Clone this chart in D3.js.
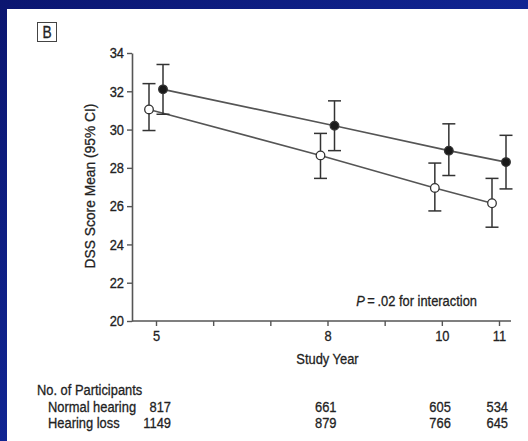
<!DOCTYPE html>
<html>
<head>
<meta charset="utf-8">
<script src="https://cdn.jsdelivr.net/npm/d3@7"></script>
<style>
  html, body { margin: 0; padding: 0; background: #fff; }
  svg { display: block; }
</style>
</head>
<body>
<div class="chart"></div>
<script>
// Data
const years = [5, 8, 10, 11]
const xTicks = [5, 6, 7, 8, 9, 10, 11]
const xLabels = [5, 8, 10, 11]
const yTicks = [20, 22, 24, 26, 28, 30, 32, 34]

// filled circles
const filledMean = [32.1, 30.2, 28.9, 28.3]
const filledLow = [30.8, 28.9, 27.6, 26.9]
const filledHigh = [33.4, 31.5, 30.3, 29.7]

// open circles
const openMean = [31.05, 28.65, 26.95, 26.15]
const openLow = [29.95, 27.45, 25.75, 24.9]
const openHigh = [32.4, 29.8, 28.25, 27.45]

const normalN = [817, 661, 605, 534]
const lossN = [1149, 879, 766, 645]

const width = 528
const height = 441
const font = "'Liberation Sans', Arial, sans-serif"
const narrow = 0.86 // condensed look, like Helvetica Condensed
const ink = "#222"
const lineCol = "#555"

const svg = d3.select(".chart").append("svg")
    .attr("width", width)
    .attr("height", height)
    .attr("viewBox", [0, 0, width, height])

// Blue slide frame
const defs = svg.append("defs")
const grad = defs.append("linearGradient")
    .attr("id", "frame")
    .attr("x1", "0%").attr("y1", "0%")
    .attr("x2", "100%").attr("y2", "100%")
grad.append("stop").attr("offset", "0%").attr("stop-color", "#0b1670")
grad.append("stop").attr("offset", "100%").attr("stop-color", "#1634b4")

svg.append("rect")
    .attr("width", width).attr("height", height)
    .attr("fill", "url(#frame)")
svg.append("rect")
    .attr("x", 7).attr("y", 9)
    .attr("width", width - 7).attr("height", height - 9)
    .attr("fill", "#fff")

// Panel letter
svg.append("rect")
    .attr("x", 37.5).attr("y", 22.5)
    .attr("width", 19).attr("height", 19)
    .attr("fill", "none")
    .attr("stroke", "#444")
    .attr("stroke-width", 1)
svg.append("text")
    .attr("x", 47).attr("y", 38)
    .attr("text-anchor", "middle")
    .attr("font-family", font)
    .attr("font-size", 16)
    .attr("fill", ink)
    .text("B")

// Scales
const x = d3.scaleLinear().domain([5, 11]).range([156, 499])
const y = d3.scaleLinear().domain([20, 34]).range([321, 53])

// Axes
const yAxis = svg.append("g")
    .attr("transform", "translate(132,0)")
    .call(d3.axisLeft(y).tickValues(yTicks).tickSize(5).tickPadding(3).tickSizeOuter(0))
yAxis.select(".domain").attr("stroke", lineCol).attr("stroke-width", 1.6)
yAxis.selectAll(".tick line").attr("stroke", lineCol).attr("stroke-width", 1.4)
yAxis.selectAll(".tick text")
    .attr("font-family", font).attr("font-size", 15).attr("fill", ink)

const xAxis = svg.append("g")
    .attr("transform", "translate(0,321)")
    .call(d3.axisBottom(x).tickValues(xTicks).tickSize(5).tickPadding(4)
        .tickFormat(d => xLabels.includes(d) ? d : ""))
xAxis.select(".domain")
    .attr("d", `M132,0H511`)
    .attr("stroke", lineCol).attr("stroke-width", 1.6)
xAxis.selectAll(".tick line").attr("stroke", lineCol).attr("stroke-width", 1.4)
xAxis.selectAll(".tick text")
    .attr("font-family", font).attr("font-size", 15).attr("fill", ink)

// Axis titles
svg.append("text")
    .attr("class", "ylab")
    .attr("transform", `translate(95,186) rotate(-90) scale(0.92,1)`)
    .attr("text-anchor", "middle")
    .attr("font-family", font)
    .attr("font-size", 15)
    .attr("fill", ink)
    .text("DSS Score Mean (95% CI)")

svg.append("text")
    .attr("x", x(8)).attr("y", 364)
    .attr("text-anchor", "middle")
    .attr("font-family", font)
    .attr("font-size", 15)
    .attr("fill", ink)
    .text("Study Year")

// Annotation
const ann = svg.append("text")
    .attr("x", 477).attr("y", 306)
    .attr("text-anchor", "end")
    .attr("font-family", font)
    .attr("font-size", 15)
    .attr("fill", ink)
ann.append("tspan").attr("font-style", "italic").text("P")
ann.append("tspan").text("\u2009=\u2009.02 for interaction")

// Series
const series = [
    { mean: openMean, low: openLow, high: openHigh, shift: -7, fill: "#fff" },
    { mean: filledMean, low: filledLow, high: filledHigh, shift: 7, fill: "#1a1a1a" }
]

const line = d3.line()
    .x(d => d.x)
    .y(d => y(d.v))

series.forEach(s => {
    const pts = years.map((yr, i) => ({
        x: x(yr) + s.shift, v: s.mean[i], lo: s.low[i], hi: s.high[i]
    }))
    const g = svg.append("g")

    g.append("path")
        .attr("d", line(pts))
        .attr("fill", "none")
        .attr("stroke", lineCol)
        .attr("stroke-width", 1.6)

    const bars = g.selectAll(".err")
        .data(pts)
        .join("g")
        .attr("stroke", "#333")
        .attr("stroke-width", 1.5)
    bars.append("line")
        .attr("x1", d => d.x).attr("x2", d => d.x)
        .attr("y1", d => y(d.lo)).attr("y2", d => y(d.hi))
    bars.append("line")
        .attr("x1", d => d.x - 6.5).attr("x2", d => d.x + 6.5)
        .attr("y1", d => y(d.hi)).attr("y2", d => y(d.hi))
    bars.append("line")
        .attr("x1", d => d.x - 6.5).attr("x2", d => d.x + 6.5)
        .attr("y1", d => y(d.lo)).attr("y2", d => y(d.lo))

    g.selectAll("circle")
        .data(pts)
        .join("circle")
        .attr("cx", d => d.x)
        .attr("cy", d => y(d.v))
        .attr("r", 4.3)
        .attr("fill", s.fill)
        .attr("stroke", "#333")
        .attr("stroke-width", 1.3)
})

// Participants table
function txt(xp, yp, s, anchor) {
    return svg.append("text")
        .attr("x", xp).attr("y", yp)
        .attr("text-anchor", anchor || "start")
        .attr("font-family", font)
        .attr("font-size", 15)
        .attr("fill", ink)
        .text(s)
}
txt(37, 395, "No. of Participants")
txt(48, 412, "Normal hearing")
txt(48, 428, "Hearing loss")

years.forEach((yr, i) => {
    const xp = yr === 5 ? x(yr) + 15 : x(yr) + 9
    txt(xp, 412, normalN[i], "end")
    txt(xp, 428, lossN[i], "end")
})

// Squeeze every text horizontally around its own anchor point
svg.selectAll("text:not(.ylab)").each(function() {
    const ax = +(this.getAttribute("x") || 0)
    d3.select(this).attr("transform",
        `translate(${ax},0) scale(${narrow},1) translate(${-ax},0)`)
})
// A touch heavier, like the printed figure
svg.selectAll("text")
    .attr("stroke", ink)
    .attr("stroke-width", 0.3)
</script>
</body>
</html>
